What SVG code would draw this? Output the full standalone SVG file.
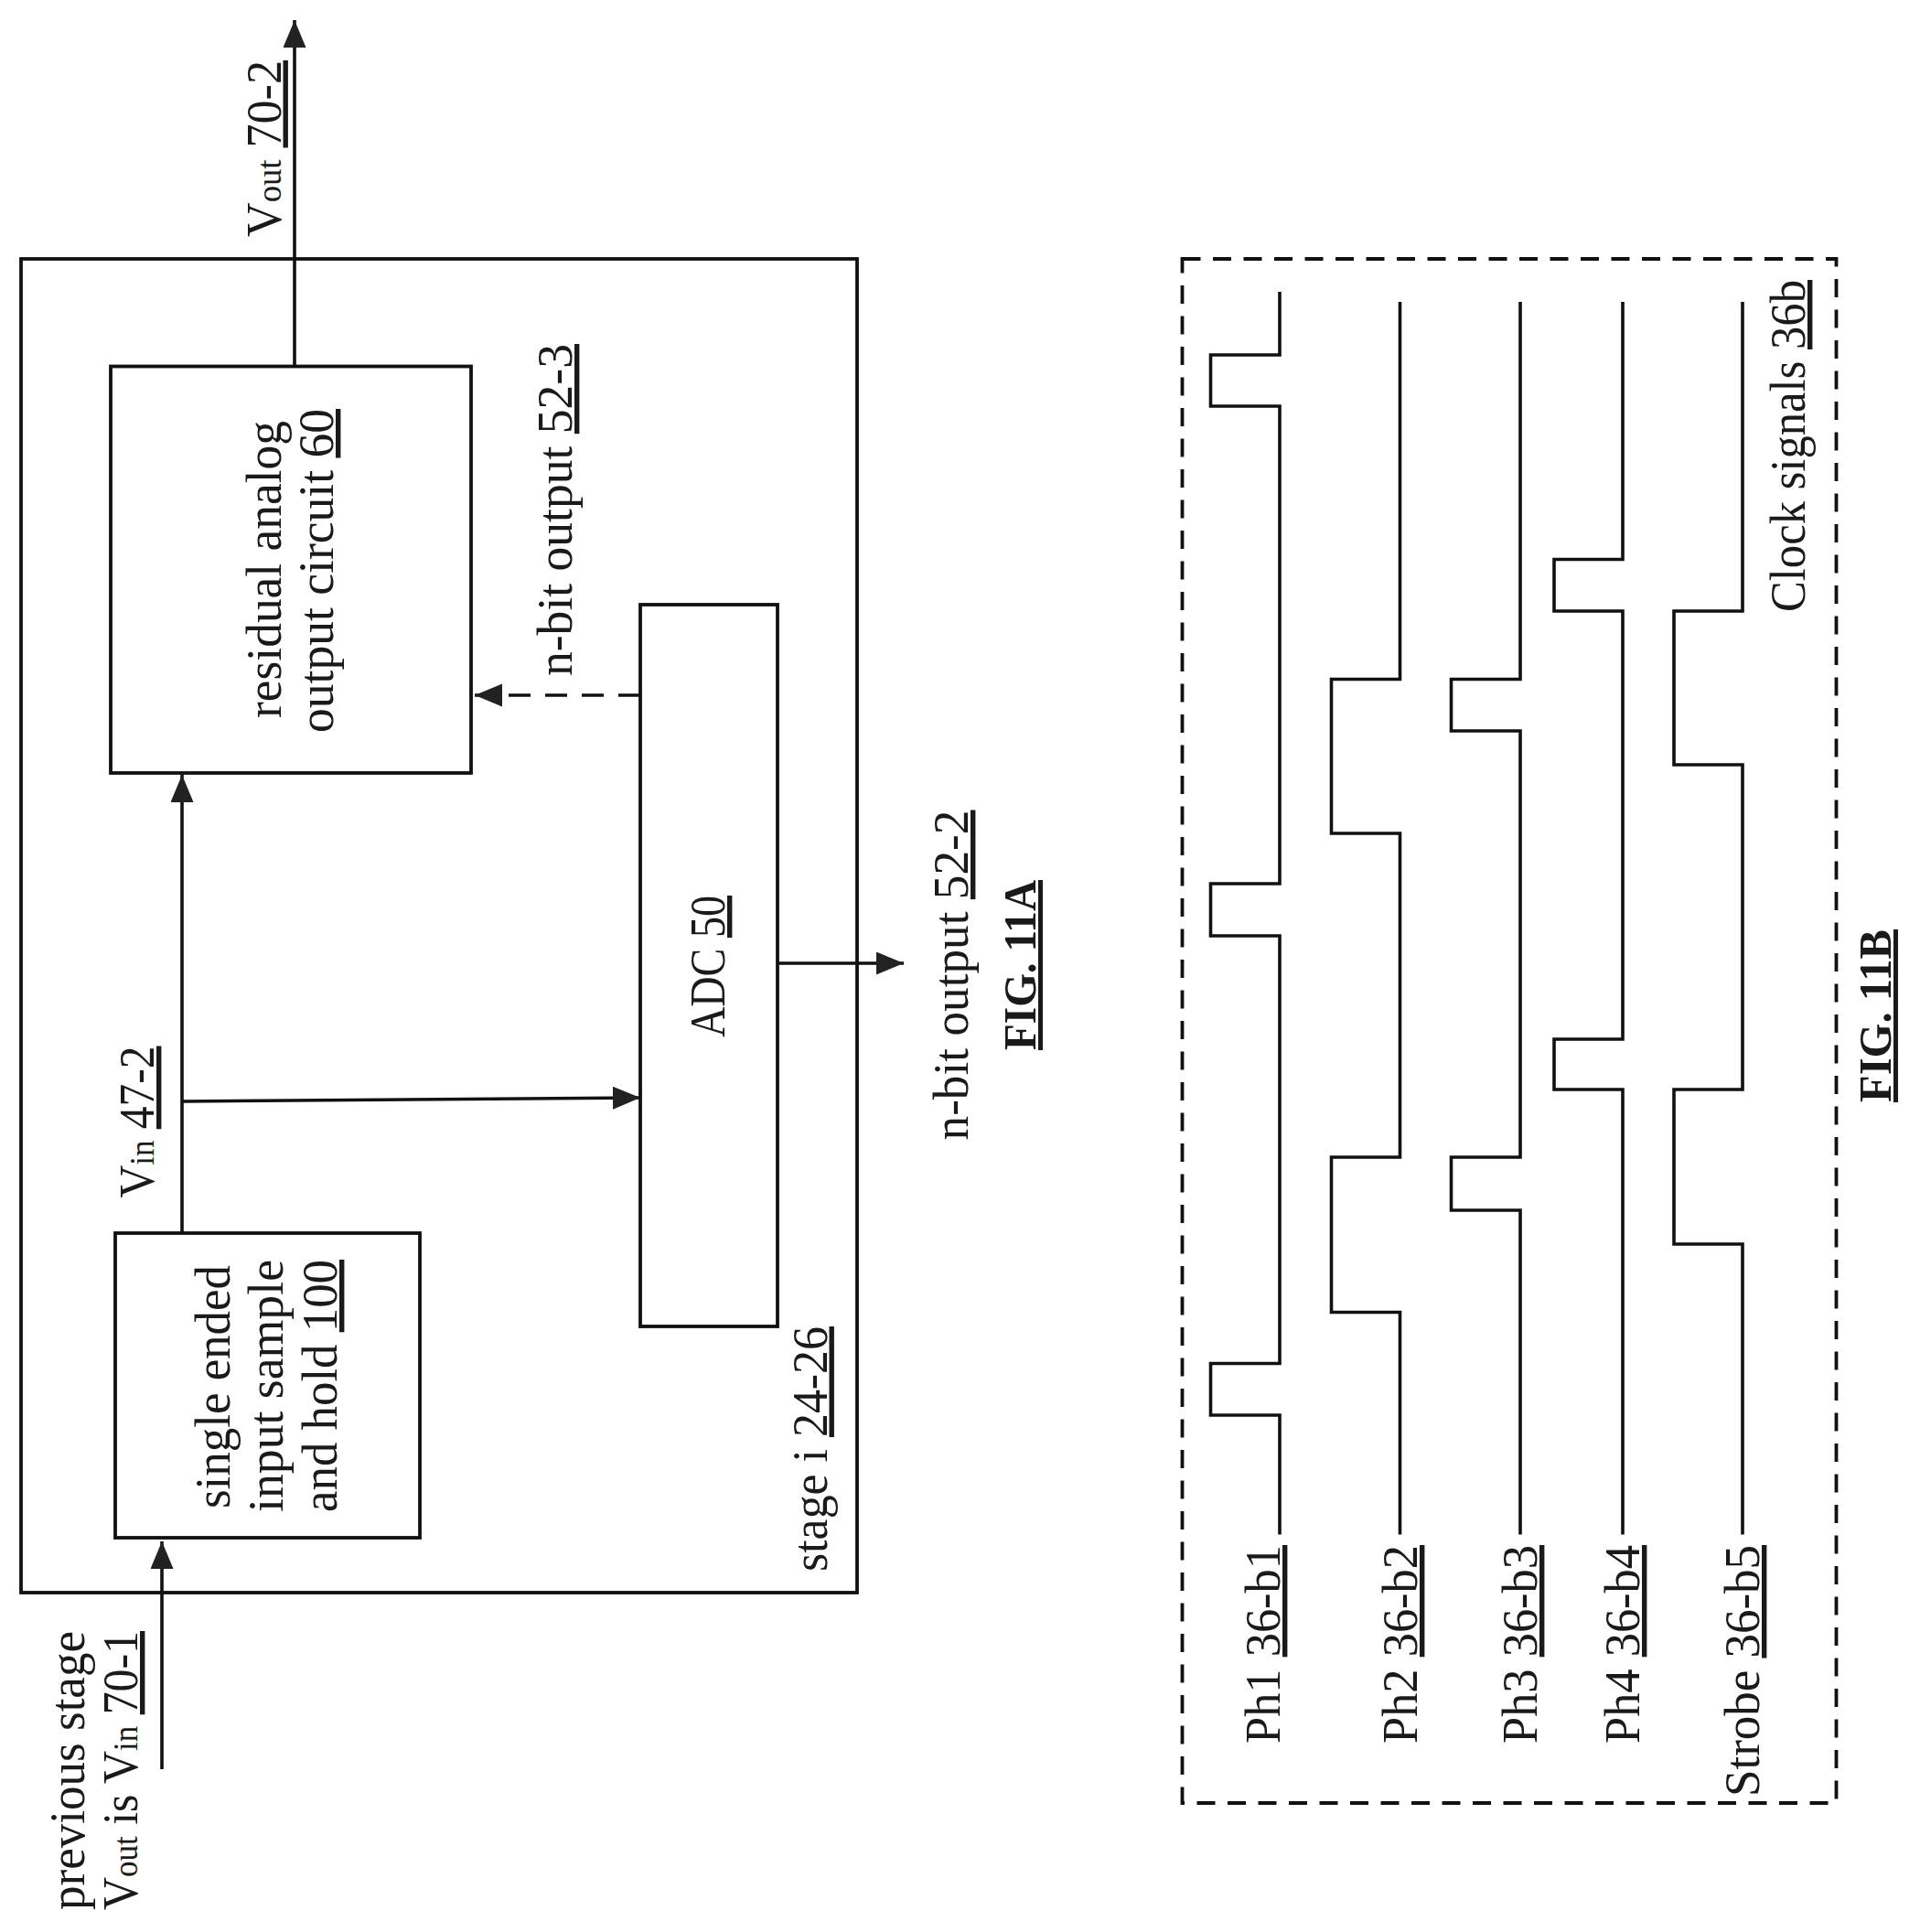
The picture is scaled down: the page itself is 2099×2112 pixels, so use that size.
<svg xmlns="http://www.w3.org/2000/svg" width="2099" height="2112" viewBox="0 0 2099 2112">
<style>
text{font-family:"Liberation Serif","Times New Roman",serif;font-size:54px;fill:#1a1a1a}
.b{font-weight:bold;font-size:50px}
.s{font-size:38px}
.u{text-decoration:underline;text-decoration-thickness:3px;text-underline-offset:9px}
.box{fill:none;stroke:#111;stroke-width:3.8}
.w{fill:none;stroke:#111;stroke-width:3.6}
.c{fill:none;stroke:#111;stroke-width:3.6}
.a{marker-end:url(#ah)}
.d{stroke-dasharray:24 16}
.d2{stroke-dasharray:20 13.500}
</style>
<defs><marker id="ah" markerUnits="userSpaceOnUse" markerWidth="32" markerHeight="26" refX="30" refY="12.500" orient="auto"><path d="M0,0L30,12.500L0,25z" fill="#222"/></marker></defs>
<rect width="2099" height="2112" fill="#fff"/>
<g id="stage"><rect class="box" x="23" y="283" width="914" height="1458"/>
<text transform="translate(903.5,1718) rotate(-90)" textLength="268" lengthAdjust="spacingAndGlyphs">stage i <tspan class="u">24-26</tspan></text></g>
<g id="residual"><rect class="box" x="121" y="400.500" width="394" height="444.500"/>
<text transform="translate(307,785) rotate(-90)" textLength="325" lengthAdjust="spacingAndGlyphs">residual analog</text>
<text transform="translate(364,801) rotate(-90)" textLength="354" lengthAdjust="spacingAndGlyphs">output circuit <tspan class="u">60</tspan></text></g>
<g id="sample-hold"><rect class="box" x="126" y="1348" width="333" height="333"/>
<text transform="translate(251,1649) rotate(-90)" textLength="266" lengthAdjust="spacingAndGlyphs">single ended</text>
<text transform="translate(309,1653) rotate(-90)" textLength="276" lengthAdjust="spacingAndGlyphs">input sample</text>
<text transform="translate(368,1653) rotate(-90)" textLength="276" lengthAdjust="spacingAndGlyphs">and hold <tspan class="u">100</tspan></text></g>
<g id="adc"><rect class="box" x="700" y="661" width="150" height="789"/>
<text transform="translate(792,1134) rotate(-90)" textLength="155" lengthAdjust="spacingAndGlyphs">ADC <tspan class="u">50</tspan></text></g>
<g id="connectors">
<path class="c a" d="M322,400.500V22"/>
<path class="c a" d="M199,1348V847"/>
<path class="c a" d="M199,1204L700,1200"/>
<path class="c a" d="M177,1934V1685"/>
<path class="c a" d="M850,1053H988"/>
<path class="c a d" d="M700,760H519"/>
</g>
<g id="labels">
<text transform="translate(306.500,259) rotate(-90)" textLength="193" lengthAdjust="spacingAndGlyphs">V<tspan class="s">out</tspan> <tspan class="u">70-2</tspan></text>
<text transform="translate(625,739) rotate(-90)" textLength="363" lengthAdjust="spacingAndGlyphs">n-bit output <tspan class="u">52-3</tspan></text>
<text transform="translate(1058,1246.500) rotate(-90)" textLength="361" lengthAdjust="spacingAndGlyphs">n-bit output <tspan class="u">52-2</tspan></text>
<text transform="translate(168,1309.500) rotate(-90)" textLength="166" lengthAdjust="spacingAndGlyphs">V<tspan class="s">in</tspan> <tspan class="u">47-2</tspan></text>
<text transform="translate(92,2088) rotate(-90)" textLength="305" lengthAdjust="spacingAndGlyphs">previous stage</text>
<text transform="translate(150,2088) rotate(-90)" textLength="305" lengthAdjust="spacingAndGlyphs">V<tspan class="s">out</tspan> is V<tspan class="s">in</tspan> <tspan class="u">70-1</tspan></text>
<text class="b" transform="translate(1132,1148) rotate(-90)" textLength="186" lengthAdjust="spacingAndGlyphs"><tspan class="u">FIG. 11A</tspan></text>
<text class="b" transform="translate(2067,1205) rotate(-90)" textLength="189" lengthAdjust="spacingAndGlyphs"><tspan class="u">FIG. 11B</tspan></text>
</g>
<g id="clock-signals">
<path class="box d2" d="M1292.500,283H2007.500V1971H1292.500Z"/>
<text transform="translate(1973,669) rotate(-90)" textLength="363" lengthAdjust="spacingAndGlyphs">Clock signals <tspan class="u">36b</tspan></text>
</g>
<g id="ph1"><path class="w" d="M1399,319V388H1323.500V444H1399V966H1323.500V1023H1399V1490.500H1323.500V1547H1399V1677.500"/>
<text transform="translate(1399,1906) rotate(-90)" textLength="217" lengthAdjust="spacingAndGlyphs">Ph1 <tspan class="u">36-b1</tspan></text></g>
<g id="ph2"><path class="w" d="M1530.500,330V742.500H1455.500V911H1530.500V1265H1455.500V1434.500H1530.500V1677.500"/>
<text transform="translate(1549,1906) rotate(-90)" textLength="217" lengthAdjust="spacingAndGlyphs">Ph2 <tspan class="u">36-b2</tspan></text></g>
<g id="ph3"><path class="w" d="M1662,330V742.500H1586.500V799H1662V1265H1586.500V1323H1662V1677.500"/>
<text transform="translate(1680,1906) rotate(-90)" textLength="217" lengthAdjust="spacingAndGlyphs">Ph3 <tspan class="u">36-b3</tspan></text></g>
<g id="ph4"><path class="w" d="M1774,330V611.500H1699V668H1774V1136H1699V1191H1774V1677.500"/>
<text transform="translate(1792,1906) rotate(-90)" textLength="217" lengthAdjust="spacingAndGlyphs">Ph4 <tspan class="u">36-b4</tspan></text></g>
<g id="strobe"><path class="w" d="M1905,330V668H1830V836H1905V1191H1830V1360H1905V1677.500"/>
<text transform="translate(1923,1964) rotate(-90)" textLength="275" lengthAdjust="spacingAndGlyphs">Strobe <tspan class="u">36-b5</tspan></text></g>
</svg>
